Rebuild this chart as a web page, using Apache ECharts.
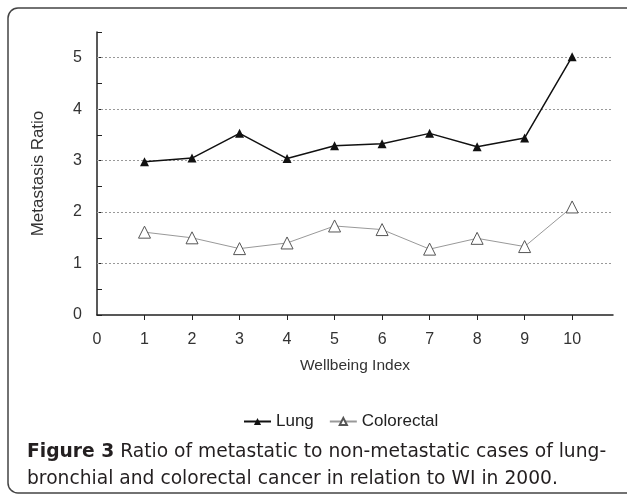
<!DOCTYPE html>
<html>
<head>
<meta charset="utf-8">
<script src="https://cdn.jsdelivr.net/npm/echarts@6/dist/echarts.min.js"></script>
<style>html,body{margin:0;padding:0;background:#fff;}#chart{width:627px;height:496px;}</style>
</head>
<body>
<div id="chart"></div>
<script>
var wellbeingIndex = [1, 2, 3, 4, 5, 6, 7, 8, 9, 10];
var lungRatio = [2.98, 3.05, 3.53, 3.04, 3.29, 3.33, 3.53, 3.27, 3.44, 5.02];
var colorectalRatio = [1.61, 1.50, 1.29, 1.40, 1.73, 1.66, 1.28, 1.49, 1.33, 2.10];
var xTickLabels = [0, 1, 2, 3, 4, 5, 6, 7, 8, 9, 10];
var yGridValues = [1, 2, 3, 4, 5];
var seriesNames = ['Lung', 'Colorectal'];
var captionBold = 'Figure 3';
var captionLine1 = ' Ratio of metastatic to non-metastatic cases of lung-';
var captionLine2 = 'bronchial and colorectal cancer in relation to WI in 2000';

function pairs(xs, ys) { return xs.map(function (x, i) { return [x, ys[i]]; }); }

var chart = echarts.init(document.getElementById('chart'));
var FONT = 'Liberation Sans, Arial, sans-serif';
var tickFont = { fontFamily: FONT, fontSize: 16, color: '#333' };
var CAP = 'DejaVu Sans, sans-serif';
chart.setOption({
  animation: false,
  backgroundColor: '#fff',
  grid: { left: 97, top: 32, right: 14, bottom: 181 },
  legend: {
    data: seriesNames,
    top: 408,
    left: 238,
    itemWidth: 27,
    itemHeight: 9,
    itemGap: 15,
    textStyle: { fontFamily: FONT, fontSize: 17, color: '#222' }
  },
  xAxis: {
    type: 'value',
    min: 0,
    max: 10.86,
    interval: 1,
    name: 'Wellbeing Index',
    nameLocation: 'middle',
    nameGap: 43,
    nameTextStyle: { fontFamily: FONT, fontSize: 15.5, color: '#333' },
    axisLine: { show: true, lineStyle: { color: '#222', width: 1.5 } },
    axisTick: { show: true, inside: false, length: 5, lineStyle: { color: '#222' }, customValues: wellbeingIndex },
    axisLabel: Object.assign({ margin: 17, customValues: xTickLabels }, tickFont),
    splitLine: { show: false }
  },
  yAxis: {
    type: 'value',
    min: 0,
    max: 5.5,
    interval: 0.5,
    name: 'Metastasis Ratio',
    nameLocation: 'middle',
    nameGap: 50,
    nameTextStyle: { fontFamily: FONT, fontSize: 17, color: '#333' },
    axisLine: { show: true, lineStyle: { color: '#222', width: 1.5 } },
    axisTick: { show: true, inside: true, length: 5, lineStyle: { color: '#222' } },
    axisLabel: Object.assign({ margin: 15, formatter: function (v) { return Number.isInteger(v) ? String(v) : ''; } }, tickFont),
    splitLine: { show: false }
  },
  series: [
    {
      name: seriesNames[0],
      type: 'line',
      data: pairs(wellbeingIndex, lungRatio),
      symbol: 'triangle',
      symbolSize: 9,
      lineStyle: { color: '#111', width: 1.5 },
      itemStyle: { color: '#111' },
      z: 3,
      markLine: {
        silent: true,
        symbol: ['none', 'none'],
        label: { show: false },
        lineStyle: { color: '#999', type: [2, 2], width: 1 },
        data: yGridValues.map(function (v) { return { yAxis: v }; }),
        z: 1
      }
    },
    {
      name: seriesNames[1],
      type: 'line',
      data: pairs(wellbeingIndex, colorectalRatio),
      symbol: 'triangle',
      symbolSize: 12,
      lineStyle: { color: '#999', width: 1 },
      itemStyle: { color: '#fff', borderColor: '#555', borderWidth: 1 },
      z: 2
    }
  ],
  graphic: [
    {
      type: 'rect',
      shape: { x: 8, y: 8, width: 640, height: 485, r: 10 },
      style: { fill: 'none', stroke: '#444', lineWidth: 1.5 },
      silent: true
    },
    {
      type: 'text',
      left: 27,
      top: 439,
      style: {
        text: '{b|' + captionBold + '}' + captionLine1 + '\n' + captionLine2 + '.',
        fontFamily: CAP,
        fontSize: 18.7,
        lineHeight: 27,
        fill: '#231f20',
        rich: {
          b: { fontWeight: 'bold', fontFamily: CAP, fontSize: 18.7, lineHeight: 27, fill: '#231f20' }
        }
      }
    }
  ]
});
</script>
</body>
</html>
